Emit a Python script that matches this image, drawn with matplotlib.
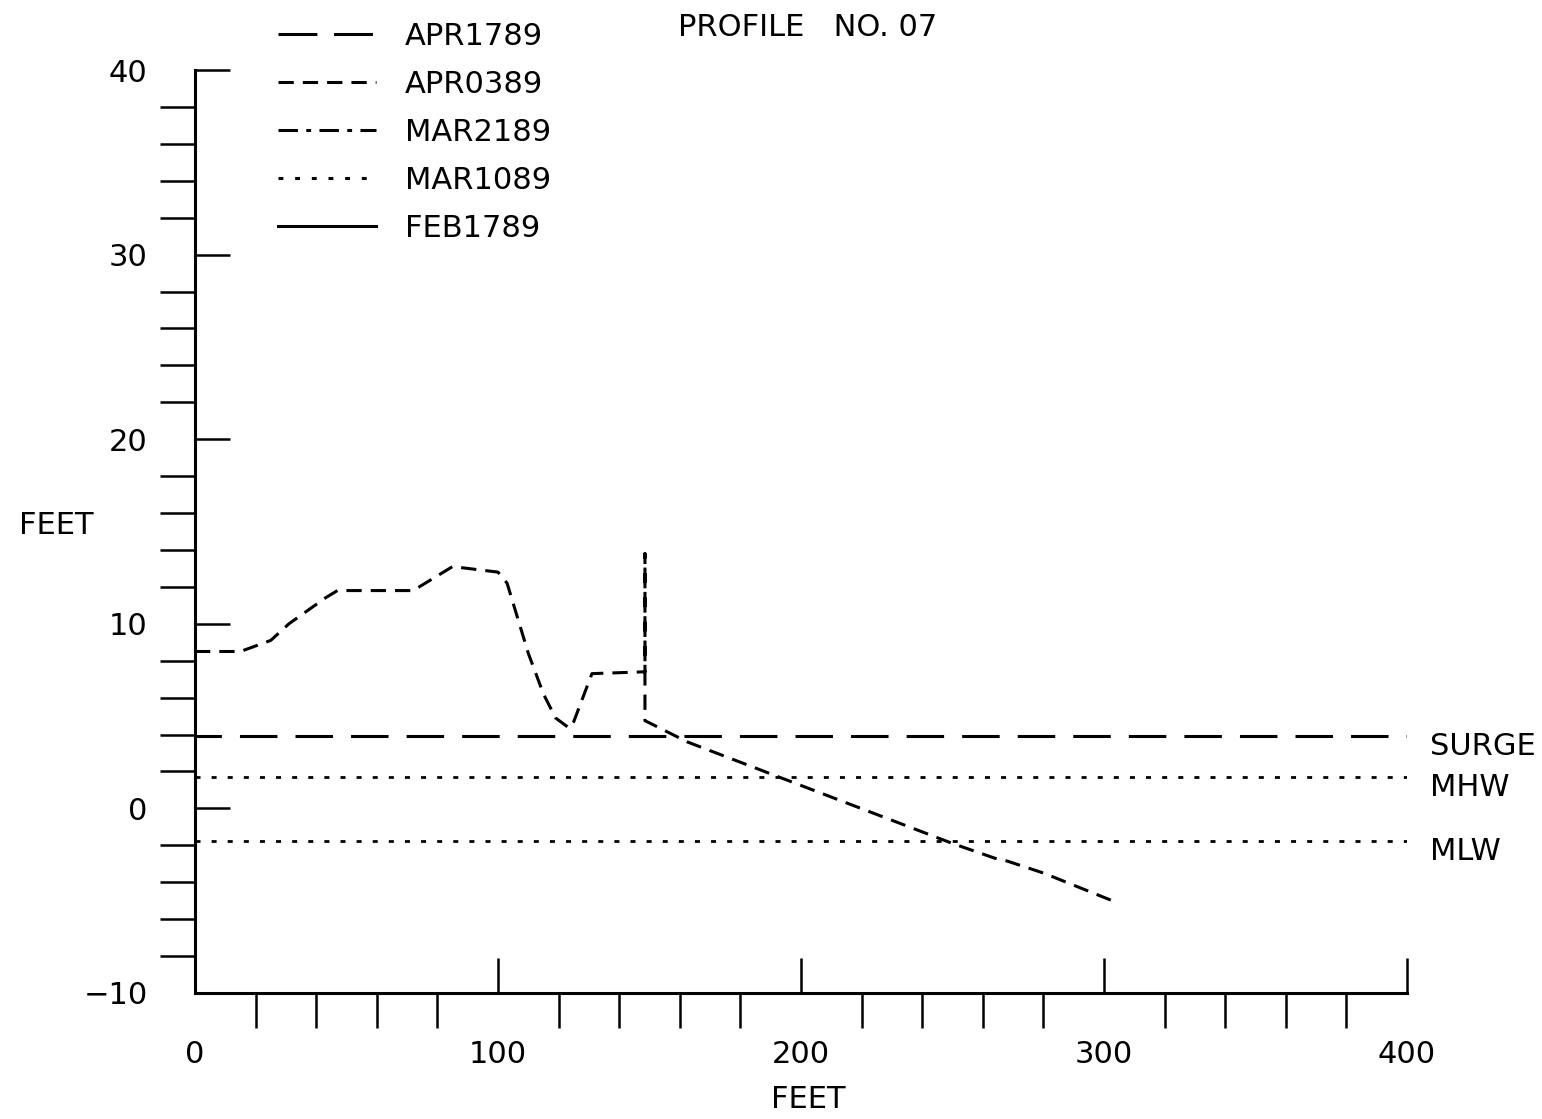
import matplotlib
matplotlib.use("Agg")
import matplotlib.pyplot as plt
from matplotlib.lines import Line2D
from matplotlib.ticker import MultipleLocator

plt.rcParams['font.family'] = ['DejaVu Sans']
plt.rcParams['lines.scale_dashes'] = False

# ---- data ----
x_profile = [0, 15, 25, 31, 43, 47, 72, 85, 100, 103, 110, 115, 119, 123.5, 125,
             131, 148.5, 148.5, 148.5, 151, 162.5, 250, 264, 268, 280, 305]
y_profile = [8.5, 8.5, 9.1, 10.0, 11.4, 11.8, 11.8, 13.1, 12.8, 12.2, 8.4, 6.2, 4.9, 4.35, 4.7,
             7.3, 7.4, 13.8, 4.75, 4.55, 3.6, -1.9, -2.7, -2.85, -3.5, -5.15]

survey_labels = ["APR1789", "APR0389", "MAR2189", "MAR1089", "FEB1789"]
level_names = ["SURGE", "MHW", "MLW"]
level_values = [3.9, 1.7, -1.75]

x_ticks = [0, 100, 200, 300, 400]
y_ticks = [-10, 0, 10, 20, 30, 40]

title_text = "PROFILE   NO. 07"
axis_label = "FEET"

# ---- styles ----
survey_dashes = [(0, (28, 12)), (0, (11, 6.5)), (0, (14, 6, 3.5, 6)), (0, (3.5, 8.5)), "solid"]
level_dashes = [(8, (27, 13)), (0, (3.6, 8)), (0, (3.6, 8))]
FS = 22
LW = 2.2

fig = plt.figure(figsize=(15.42, 11.19), dpi=100)
ax = fig.add_axes([195/1542, 1-993/1119, (1407-195)/1542, (993-70)/1119])

# profile (plotted as APR0389 survey)
ax.plot(x_profile, y_profile, color="black", lw=LW, linestyle=survey_dashes[1])

# reference levels
for name, val, ls in zip(level_names, level_values, level_dashes):
    lw = LW if name == "SURGE" else 2.0
    ax.plot([0, 400], [val, val], color="black", lw=lw, linestyle=ls)
    ax.annotate(name, xy=(400, val), xytext=(16.5, -7.5), textcoords="offset points",
                ha="left", va="center", fontsize=FS, annotation_clip=False)

ax.set_xlim(0, 400)
ax.set_ylim(-10, 40)
for s in ["top", "right"]:
    ax.spines[s].set_visible(False)
for s in ["left", "bottom"]:
    ax.spines[s].set_linewidth(2.2)

ax.set_xticks(x_ticks)
ax.set_yticks(y_ticks)
ax.xaxis.set_minor_locator(MultipleLocator(20))
ax.yaxis.set_minor_locator(MultipleLocator(2))
ax.tick_params(which="major", direction="in", length=25, width=1.8, labelsize=FS)
ax.tick_params(which="minor", direction="out", length=25, width=1.8)
ax.tick_params(axis="x", which="major", pad=34)
ax.tick_params(axis="y", which="major", pad=34)

ax.set_xlabel(axis_label, fontsize=FS)
ax.xaxis.set_label_coords((808-195)/1212, (993-1100)/923)
ax.xaxis.label.set_va("center")
ax.set_ylabel(axis_label, fontsize=FS, rotation=0, ha="center", va="center")
ax.yaxis.set_label_coords((56-195)/1212, (993-525)/923)

# legend
handles = [Line2D([], [], color="black", lw=LW, linestyle=ls) for ls in survey_dashes]
fig.legend(handles, survey_labels, loc="upper left",
           bbox_to_anchor=(278/1542, 1-22/1119), bbox_transform=fig.transFigure,
           frameon=False, fontsize=FS, handlelength=3.2, handletextpad=0.95,
           labelspacing=0.62, borderpad=0, borderaxespad=0)

fig.text(678/1542, 1-28/1119, title_text, ha="left", va="center", fontsize=FS)

fig.savefig("out.png", dpi=100)
